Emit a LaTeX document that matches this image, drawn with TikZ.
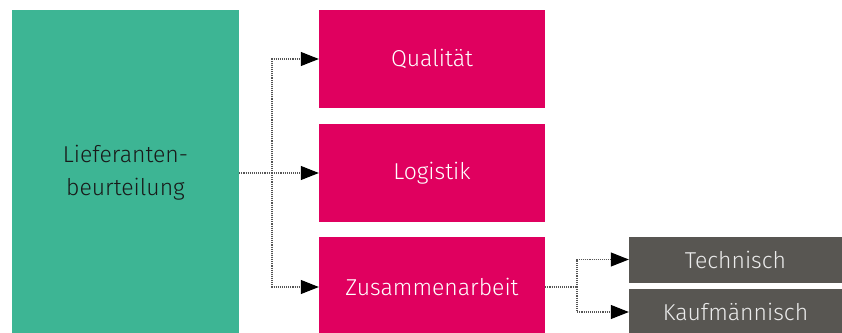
\documentclass[tikz,border=0pt]{standalone}
\usepackage{fontspec}
\setmainfont{Fira Sans}[UprightFont=* Light]
\usetikzlibrary{arrows.meta,positioning}

\definecolor{lgreen}{HTML}{3DB594}
\definecolor{lmagenta}{HTML}{E0005F}
\definecolor{lgrey}{HTML}{585652}
\definecolor{ldots}{HTML}{555555}

\tikzset{
  mainbox/.style={fill=lgreen,text=black!90,minimum width=227pt,minimum height=326pt,
    align=center,inner sep=0pt,font=\fontsize{23}{33}\selectfont},
  critbox/.style={fill=lmagenta,text=white,minimum width=226pt,minimum height=98pt,
    inner sep=0pt,font=\fontsize{23}{28}\selectfont},
  subbox/.style={fill=lgrey,text=white!92!black,minimum width=213pt,minimum height=46pt,
    inner sep=0pt,font=\fontsize{23}{28}\selectfont},
  link/.style={densely dotted,line width=1.1pt,ldots},
  tip/.style={-{Triangle[length=18pt,width=14pt,black]}}
}

\begin{document}
\begin{tikzpicture}[x=1pt,y=-1pt,>=Latex]
\clip (0,0) rectangle (842,332);
\useasboundingbox (0,0) rectangle (842,332);
\fill[white] (0,0) rectangle (842,332);

% main box
\node[mainbox] (lief) at (125.5,173) {Lieferanten-\\beurteilung};

% criteria
\node[critbox] (qual) at (432,59) {Qualit\"at};
\node[critbox] (logi) at (432,173) {Logistik};
\node[critbox,minimum height=100pt] (zusa) at (432,287) {Zusammenarbeit};

% sub criteria
\node[subbox] (tech) at (735.5,259.5) {Technisch};
\node[subbox] (kauf) at (735.5,312) {Kaufm\"annisch};

% connectors
\coordinate (split1) at (272,173);
\coordinate (split2) at (577,287);
\draw[link] (lief.east) -- (split1);
\draw[link,tip] (split1) |- (qual.west);
\draw[link,tip] (split1) -- (logi.west);
\draw[link,tip] (split1) |- (zusa.west);
\draw[link] (zusa.east) -- (split2);
\draw[link,tip] (split2) |- (tech.west);
\draw[link,tip] (split2) |- (kauf.west);
\end{tikzpicture}
\end{document}
